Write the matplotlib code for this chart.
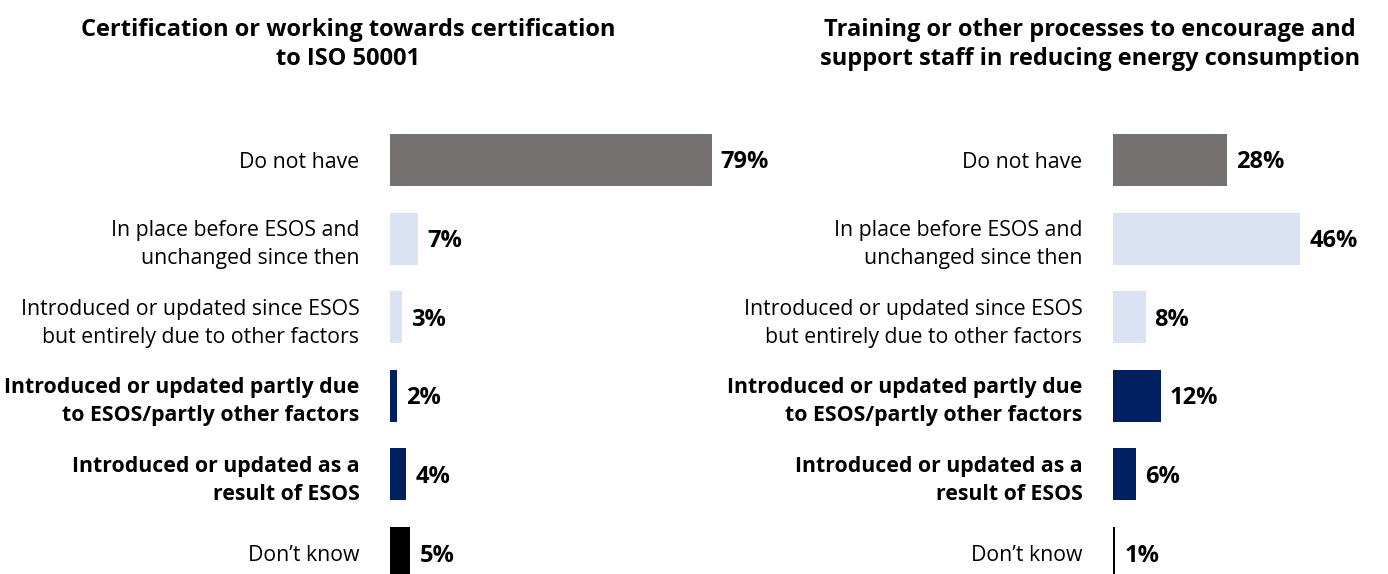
import matplotlib
matplotlib.use("Agg")
import matplotlib.pyplot as plt

plt.rcParams["font.family"] = ["Open Sans", "DejaVu Sans"]

CATEGORIES = [
    "Do not have",
    "In place before ESOS and\nunchanged since then",
    "Introduced or updated since ESOS\nbut entirely due to other factors",
    "Introduced or updated partly due\nto ESOS/partly other factors",
    "Introduced or updated as a\nresult of ESOS",
    "Don\u2019t know",
]
BOLD_ROWS = [3, 4]

TITLE_LEFT = "Certification or working towards certification\nto ISO 50001"
TITLE_RIGHT = "Training or other processes to encourage and\nsupport staff in reducing energy consumption"

# bar lengths (percent); labels are rounded
VALUES_LEFT = [79, 7, 3, 1.7, 4, 5]
VALUES_RIGHT = [28, 46, 8, 11.8, 5.7, 0.6]

COLORS = ["#767171", "#dae3f3", "#dae3f3", "#002060", "#002060", "#000000"]

W, H = 1388, 574
fig = plt.figure(figsize=(W / 100, H / 100), dpi=100)

PX_PER_PCT = 4.07
ROW_PX = 78.6


def panel(x0, xmax, values, title, title_x):
    top, bottom = 100, 574
    ax = fig.add_axes([x0 / W, 0, xmax * PX_PER_PCT / W, (bottom - top) / H])
    y = list(range(len(values)))
    ax.barh(y, values, height=0.66, color=COLORS, edgecolor="none")
    ax.set_xlim(0, xmax)
    ax.set_ylim(5 + (bottom - 553) / ROW_PX, -(160 - top) / ROW_PX)
    for yi, v in zip(y, values):
        ax.text(v + 9 / PX_PER_PCT, yi + 2.5 / ROW_PX, f"{round(v)}%",
                va="center", ha="left", fontsize=17, fontweight="bold",
                clip_on=False)
    ax.set_yticks(y)
    ax.set_yticklabels(CATEGORIES, fontsize=15.3, linespacing=1.45)
    for i, lab in enumerate(ax.get_yticklabels()):
        if i in BOLD_ROWS:
            lab.set_fontweight("bold")
    ax.tick_params(axis="y", length=0, pad=22)
    ax.set_xticks([])
    for s in ax.spines.values():
        s.set_visible(False)
    fig.text(title_x / W, 1 - 44.5 / H, title, ha="center", va="center",
             fontsize=17, fontweight="bold", linespacing=1.3)
    return ax


panel(390, 80, VALUES_LEFT, TITLE_LEFT, 348)
panel(1113, 60, VALUES_RIGHT, TITLE_RIGHT, 1090)

fig.savefig("out.png", dpi=100)
